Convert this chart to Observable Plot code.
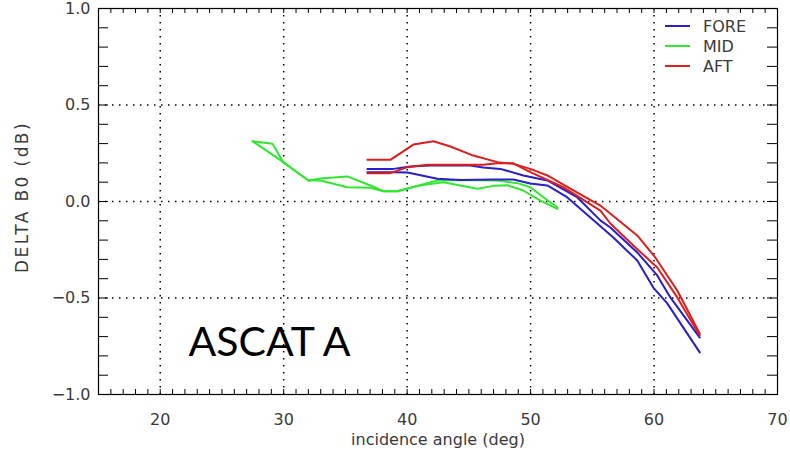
<!DOCTYPE html>
<html>
<head>
<meta charset="utf-8">
<script src="https://cdn.jsdelivr.net/npm/d3@7"></script>
<script src="https://cdn.jsdelivr.net/npm/@observablehq/plot@0.6"></script>
<style>
  html, body { margin: 0; padding: 0; background: #fff; }
  #wrap { position: relative; width: 790px; height: 460px; }
  #overlay { position: absolute; left: 0; top: 0; }
</style>
</head>
<body>
<div id="wrap"></div>
<script>
// ---- data ----
const beams = ["FORE", "MID", "AFT"];
const beamColors = ["#2a1ec8", "#32e632", "#dc1e1e"];

const foreAngle1 = [36.78, 38.89, 40.02, 42.45, 44.31, 46.98, 48.60, 49.98, 51.36, 52.98, 55.40, 56.70, 58.64, 59.94, 61.07, 63.70];
const foreDelta1 = [0.152, 0.152, 0.150, 0.118, 0.112, 0.114, 0.114, 0.093, 0.083, 0.021, -0.114, -0.187, -0.306, -0.446, -0.528, -0.782];
const foreAngle2 = [36.78, 38.89, 40.26, 41.88, 45.12, 46.17, 47.55, 49.41, 51.36, 53.79, 55.65, 56.46, 58.64, 60.26, 61.32, 63.70];
const foreDelta2 = [0.169, 0.169, 0.181, 0.187, 0.187, 0.176, 0.169, 0.135, 0.109, 0.021, -0.098, -0.135, -0.264, -0.383, -0.497, -0.705];

const midAngle1 = [27.47, 29.09, 29.98, 32.00, 32.98, 35.16, 37.02, 38.08, 39.21, 40.83, 42.94, 44.31, 45.69, 46.98, 48.12, 49.41, 50.79, 52.17];
const midDelta1 = [0.312, 0.299, 0.202, 0.109, 0.119, 0.130, 0.083, 0.053, 0.053, 0.081, 0.100, 0.083, 0.066, 0.081, 0.084, 0.057, 0.005, -0.038];
const midAngle2 = [27.47, 29.98, 32.00, 32.98, 35.16, 37.02, 38.08, 39.21, 42.45, 44.07, 47.31, 48.93, 49.98, 51.03, 52.17];
const midDelta2 = [0.312, 0.204, 0.109, 0.109, 0.074, 0.071, 0.053, 0.053, 0.109, 0.112, 0.109, 0.095, 0.074, 0.022, -0.030];

const aftAngle1 = [36.78, 38.64, 40.51, 42.13, 43.50, 45.36, 47.31, 48.60, 49.98, 51.36, 53.22, 55.65, 58.64, 60.10, 61.88, 63.70];
const aftDelta1 = [0.216, 0.216, 0.295, 0.312, 0.285, 0.238, 0.204, 0.195, 0.169, 0.135, 0.067, -0.021, -0.176, -0.290, -0.461, -0.684];
const aftAngle2 = [36.78, 38.64, 40.02, 41.64, 46.17, 47.31, 48.60, 49.98, 52.65, 55.65, 56.46, 58.32, 60.26, 61.88, 63.70];
const aftDelta2 = [0.147, 0.147, 0.178, 0.190, 0.190, 0.198, 0.198, 0.152, 0.074, -0.047, -0.114, -0.228, -0.342, -0.497, -0.694];

const xTicks = [20, 30, 40, 50, 60, 70];
const yTicks = [-1.0, -0.5, 0.0, 0.5, 1.0];
const xGrid = [20, 30, 40, 50, 60];
const yGrid = [-0.5, 0.0, 0.5];
const xMinor = d3.range(16, 70, 1);
const yMinor = d3.range(-9, 10, 1).map(d => d / 10);

const xTitle = "incidence angle (deg)";
const yTitle = "DELTA B0 (dB)";
const panelLabel = "ASCAT A";

// ---- build table ----
function series(beam, id, xs, ys) {
  return xs.map((x, i) => ({beam, id, angle: x, delta: ys[i]}));
}
const rows = [
  ...series("MID", "MID-1", midAngle1, midDelta1),
  ...series("MID", "MID-2", midAngle2, midDelta2),
  ...series("FORE", "FORE-1", foreAngle1, foreDelta1),
  ...series("FORE", "FORE-2", foreAngle2, foreDelta2),
  ...series("AFT", "AFT-1", aftAngle1, aftDelta1),
  ...series("AFT", "AFT-2", aftAngle2, aftDelta2)
];

const W = 790, H = 460, mL = 98, mR = 13, mT = 8, mB = 66;
const fw = W - mL - mR, fh = H - mT - mB;
const font = "DejaVu Sans, sans-serif";
const txt = "#3a3a3a";

const chart = Plot.plot({
  width: W, height: H,
  marginLeft: mL, marginRight: mR, marginTop: mT, marginBottom: mB,
  style: {fontFamily: font, background: "#fff"},
  x: {domain: [15, 70], axis: null},
  y: {domain: [-1, 1], axis: null},
  color: {domain: beams, range: beamColors},
  marks: [
    Plot.ruleX(xGrid, {stroke: "#000", strokeWidth: 1.5, strokeDasharray: "1.5,5.5"}),
    Plot.ruleY(yGrid, {stroke: "#000", strokeWidth: 1.5, strokeDasharray: "1.5,5.5"}),
    // minor ticks, inward on all four sides
    Plot.ruleX(xMinor, {stroke: "#000", insetTop: fh - 5}),
    Plot.ruleX(xMinor, {stroke: "#000", insetBottom: fh - 5}),
    Plot.ruleY(yMinor, {stroke: "#000", insetRight: fw - 10}),
    Plot.ruleY(yMinor, {stroke: "#000", insetLeft: fw - 10}),
    Plot.frame({stroke: "#000", strokeWidth: 1.2}),
    Plot.line(rows, {x: "angle", y: "delta", z: "id", stroke: "beam", strokeWidth: 2}),
    Plot.axisX(xTicks, {anchor: "bottom", tickSize: 0, tickPadding: 19, fontSize: 16, fill: txt, label: null}),
    Plot.axisY(yTicks, {anchor: "left", tickSize: 0, tickPadding: 8, fontSize: 16, fill: txt, label: null, tickFormat: d3.format(".1f")}),
    Plot.text([xTitle], {frameAnchor: "bottom", dy: 50, fontSize: 16, fill: txt}),
    Plot.text([panelLabel], {frameAnchor: "bottom-left", dx: 90, dy: -39, textAnchor: "start", lineAnchor: "bottom", fontSize: 41, fontFamily: "Lato, sans-serif", fill: "#000"})
  ]
});

const wrap = document.getElementById("wrap");
wrap.appendChild(chart);

// overlay: y-axis title and legend inside the frame (top right)
const ov = d3.select(wrap).append("svg").attr("id", "overlay").attr("width", W).attr("height", H)
  .style("font-family", font).style("pointer-events", "none");
ov.append("text")
  .attr("transform", `translate(22,${mT + fh / 2 - 4}) rotate(-90)`)
  .attr("text-anchor", "middle").attr("dy", "0.36em")
  .attr("font-size", 17).attr("letter-spacing", "2.4px").attr("fill", txt)
  .text(yTitle);
beams.forEach((b, i) => {
  const y = 26 + i * 20;
  ov.append("line").attr("x1", 665).attr("x2", 690).attr("y1", y).attr("y2", y)
    .attr("stroke", beamColors[i]).attr("stroke-width", 2);
  ov.append("text").attr("x", 703).attr("y", y).attr("dy", "0.36em")
    .attr("font-size", 16).attr("fill", txt).text(b);
});
</script>
</body>
</html>
